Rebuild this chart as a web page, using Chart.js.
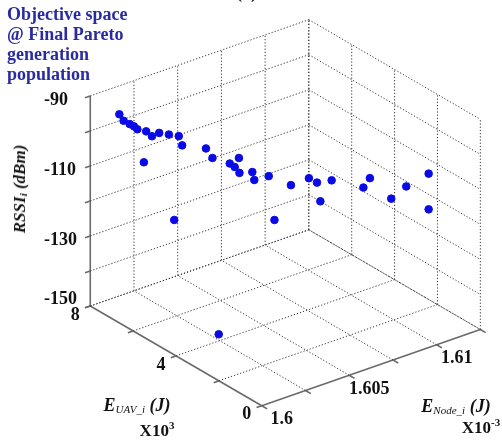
<!DOCTYPE html>
<html>
<head>
<meta charset="utf-8">
<script src="https://cdn.jsdelivr.net/npm/chart.js@4/dist/chart.umd.min.js"></script>
<style>
  body { margin: 0; background: #fff; }
  #wrap { position: relative; width: 502px; height: 442px; overflow: hidden; }
  .lbl { position: absolute; font-family: "Liberation Serif", serif; font-weight: bold; color: #111; white-space: nowrap; }
  #title { left: 7px; top: 4px; font-size: 18px; line-height: 20px; color: #2a2aa2; }
  .mid { transform: translate(-50%, -50%); }
  .sub { font-size: 11px; font-weight: normal; vertical-align: -2px; }
</style>
</head>
<body>
<div id="wrap">
  <canvas id="chart" width="502" height="442"></canvas>
  <div class="lbl" style="left:236px; top:-18px; font-size:18px;">(a)</div>
  <div class="lbl" id="title">Objective space<br>@ Final Pareto<br>generation<br>population</div>
  <div class="lbl" style="left:20px; top:189px; font-size:17px; font-style:italic; transform:translate(-50%,-50%) rotate(-90deg);">RSSI<span style="font-size:11px; vertical-align:-2px;">i</span> (dBm)</div>
  <div class="lbl mid" style="left:137px; top:405px; font-size:18px; font-style:italic;">E<span class="sub">UAV_i</span> (J)</div>
  <div class="lbl mid" style="left:157px; top:430px; font-size:17px;">X10<sup style="font-size:11px;">3</sup></div>
  <div class="lbl mid" style="left:456px; top:406px; font-size:18px; font-style:italic;">E<span class="sub">Node_i</span> (J)</div>
  <div class="lbl mid" style="left:481px; top:427px; font-size:17px;">X10<sup style="font-size:11px;">-3</sup></div>
</div>
<script>
// axes
const uavTicks = [0, 2, 4, 6, 8];
const uavLabels = [0, 4, 8];
const nodeTicks = [1.6, 1.6025, 1.605, 1.6075, 1.61, 1.6125];
const nodeLabels = ['1.6', '1.605', '1.61'];
const rssiTicks = [-150, -140, -130, -120, -110, -100, -90];
const rssiLabels = [-90, -110, -130, -150];

// final pareto population (E_UAV x10^3, E_Node x10^-3, RSSI dBm)
const uav = [7.5, 7.4, 7.3, 7.2, 7.1, 7.0, 6.9, 6.8, 6.6, 6.4, 6.3, 7.0, 5.8, 5.7, 5.4, 5.3, 5.2, 5.2,
  5.0, 4.9, 4.7, 6.0, 4.0, 4.3, 4.0, 3.9, 3.8, 3.6, 3.0, 2.9, 2.5, 2.2, 1.8, 1.8, 4.3];
const node = [1.60105, 1.60117, 1.60140, 1.60152, 1.60159, 1.60197, 1.60218, 1.60247, 1.60278, 1.60310,
  1.60317, 1.60184, 1.60392, 1.60417, 1.60479, 1.60495, 1.60507, 1.60510, 1.60559, 1.60558, 1.60616,
  1.60235, 1.60563, 1.60694, 1.60760, 1.60794, 1.60801, 1.60841, 1.60949, 1.60974, 1.61047, 1.61096,
  1.61175, 1.61175, 1.60281];
const rssi = [-95.3, -97.0, -98.0, -98.5, -99.1, -100.0, -101.4, -100.6, -100.9, -101.2, -103.6, -108.6,
  -104.0, -106.8, -108.4, -109.3, -106.6, -110.9, -110.8, -112.7, -111.9, -122.4, -121.0, -114.4,
  -112.5, -114.0, -119.1, -113.1, -114.9, -112.3, -118.0, -114.3, -110.6, -120.8, -149.8];

// 3d view: where the origin corner sits and how each axis runs on screen
const view = { ox: 262, oy: 410, ux: -21.875, uy: -12.75, nx: 17840, ny: -6240, zy: -215 / 60 };
const uMin = uavTicks[0], uMax = uavTicks[uavTicks.length - 1];
const nMin = nodeTicks[0], nMax = nodeTicks[nodeTicks.length - 1];
const zMin = rssiTicks[0], zMax = rssiTicks[rssiTicks.length - 1];

function project(u, n, z) {
  return {
    x: view.ox + view.ux * (u - uMin) + view.nx * (n - nMin),
    y: view.oy + view.uy * (u - uMin) + view.ny * (n - nMin) + view.zy * (z - zMin)
  };
}

const datasets = [];

datasets.push({
  type: 'scatter',
  data: uav.map((u, i) => project(u, node[i], rssi[i])),
  backgroundColor: '#0a0ae6',
  borderColor: '#0a0ae6',
  pointRadius: 3.8,
  order: 0
});

function seg(a, b, solid) {
  datasets.push({
    type: 'scatter',
    showLine: true,
    data: [project(...a), project(...b)],
    borderColor: solid ? '#6a6a6a' : '#333333',
    borderWidth: solid ? 1.6 : 1,
    borderDash: solid ? [] : [1.2, 2],
    pointRadius: 0,
    order: 2
  });
}

// floor grid
uavTicks.forEach(u => { if (u !== uMin) seg([u, nMin, zMin], [u, nMax, zMin]); });
nodeTicks.forEach(n => { if (n !== nMin) seg([uMin, n, zMin], [uMax, n, zMin]); });
// back left wall (u = max)
nodeTicks.forEach(n => { if (n !== nMin) seg([uMax, n, zMin], [uMax, n, zMax]); });
rssiTicks.forEach(z => seg([uMax, nMin, z], [uMax, nMax, z]));
// back right wall (n = max)
uavTicks.forEach(u => seg([u, nMax, zMin], [u, nMax, zMax]));
rssiTicks.forEach(z => seg([uMax, nMax, z], [uMin, nMax, z]));

// solid axes
seg([uMax, nMin, zMin], [uMax, nMin, zMax], true);
seg([uMin, nMin, zMin], [uMax, nMin, zMin], true);
seg([uMin, nMin, zMin], [uMin, nMax, zMin], true);
// tick marks
rssiTicks.forEach(z => seg([uMax, nMin, z], [uMax, nMin - 0.0003, z], true));
uavTicks.forEach(u => seg([u, nMin, zMin], [u, nMin - 0.0003, zMin], true));
nodeTicks.forEach(n => seg([uMin, n, zMin], [uMin - 0.25, n, zMin], true));

const tickText = {
  id: 'tickText',
  afterDraw(chart) {
    const ctx = chart.ctx, sx = chart.scales.x, sy = chart.scales.y;
    const px = p => ({ x: sx.getPixelForValue(p.x), y: sy.getPixelForValue(p.y) });
    ctx.save();
    ctx.fillStyle = '#111';
    ctx.font = 'bold 18px "Liberation Serif"';
    ctx.textBaseline = 'middle';
    ctx.textAlign = 'left';
    rssiLabels.forEach(z => {
      const p = px(project(uMax, nMin, z));
      ctx.fillText(String(z), 44, p.y + (z === zMin ? -7 : 4));
    });
    ctx.textAlign = 'center';
    uavLabels.forEach(u => {
      const p = px(project(u, nMin, zMin));
      ctx.fillText(String(u), p.x - 15, p.y + 9);
    });
    nodeLabels.forEach(t => {
      const p = px(project(uMin, parseFloat(t), zMin));
      ctx.fillText(t, p.x + 20, p.y + 14);
    });
    ctx.restore();
  }
};

new Chart(document.getElementById('chart'), {
  type: 'scatter',
  data: { datasets: datasets },
  options: {
    responsive: false,
    animation: false,
    devicePixelRatio: 1,
    layout: { padding: 0 },
    plugins: { legend: { display: false }, tooltip: { enabled: false } },
    scales: {
      x: { type: 'linear', display: false, min: 0, max: 502 },
      y: { type: 'linear', display: false, min: 0, max: 442, reverse: true }
    }
  },
  plugins: [tickText]
});
</script>
</body>
</html>
